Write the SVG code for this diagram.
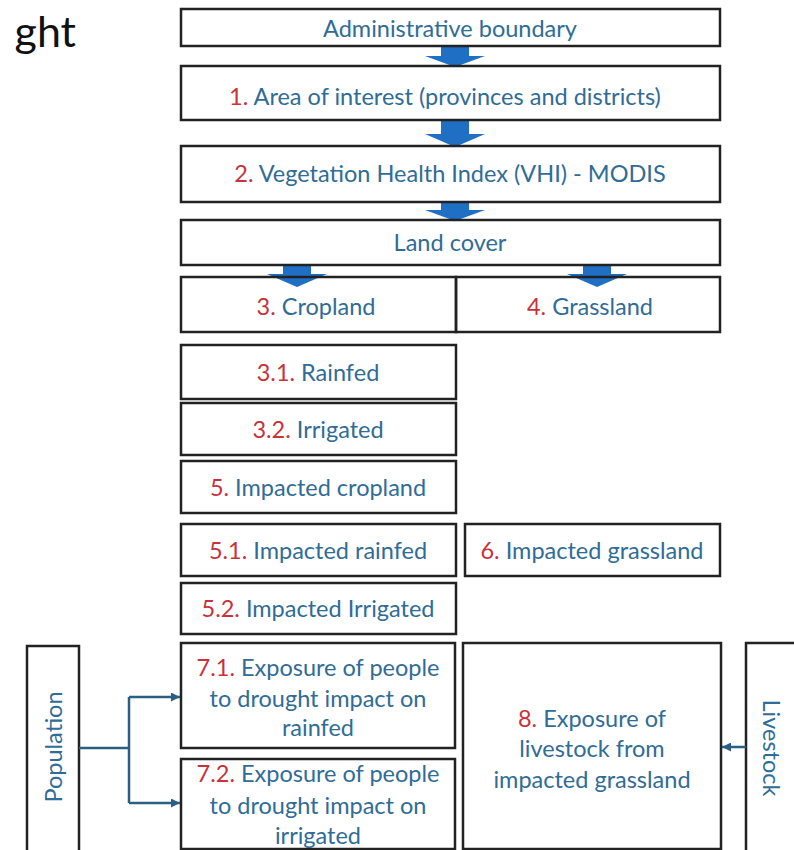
<svg xmlns="http://www.w3.org/2000/svg" width="794" height="850" viewBox="0 0 794 850">
<defs>
<style>
.box{fill:#fff;stroke:#222;stroke-width:2.5}
.t{font-family:Lato,"Open Sans","Liberation Sans",sans-serif;font-size:23.5px;fill:#2f6c97;text-anchor:middle;dominant-baseline:central}
.n{fill:#c8323a}
.blk{fill:#1f6fc5}
.con{fill:none;stroke:#2b5f82;stroke-width:2.5}
</style>
<marker id="ah" viewBox="0 0 10 10" refX="10" refY="5" markerWidth="9" markerHeight="9" markerUnits="userSpaceOnUse" orient="auto">
<path d="M0,0 L10,5 L0,10 z" fill="#2b5f82"/>
</marker>
</defs>
<rect width="794" height="850" fill="#fff"/>
<text x="76" y="47" font-family="Lato,'Open Sans','Liberation Sans',sans-serif" font-size="43" fill="#111" text-anchor="end">ght</text>

<g id="block-arrows">
<polygon class="blk" points="441,45 469,45 469,56 485,56 455,67 425,56 441,56"/>
<polygon class="blk" points="441,119 469,119 469,134 485,134 455,147 425,134 441,134"/>
<polygon class="blk" points="441,201 469,201 469,210 485,210 455,221 425,210 441,210"/>
<polygon class="blk" points="283,264 311,264 311,274 327,274 297,287 267,274 283,274"/>
<polygon class="blk" points="583,264 611,264 611,274 627,274 597,287 567,274 583,274"/>
</g>

<g id="admin"><rect class="box" x="181" y="9" width="539" height="37"/><text class="t" x="450" y="28">Administrative boundary</text></g>
<g id="n1"><rect class="box" x="181" y="66" width="539" height="54" fill-opacity="0"/><text class="t" x="445" y="96"><tspan class="n">1.</tspan> Area of interest (provinces and districts)</text></g>
<g id="n2"><rect class="box" x="181" y="146" width="539" height="56" fill-opacity="0"/><text class="t" x="450" y="173"><tspan class="n">2.</tspan> Vegetation Health Index (VHI) - MODIS</text></g>
<g id="landcover"><rect class="box" x="181" y="220" width="539" height="45" fill-opacity="0"/><text class="t" x="450" y="242">Land cover</text></g>
<g id="n3"><rect class="box" x="181" y="277" width="275" height="55" style="fill:none"/><text class="t" x="316" y="306"><tspan class="n">3.</tspan> Cropland</text></g>
<g id="n4"><rect class="box" x="456" y="277" width="264" height="55" style="fill:none"/><text class="t" x="590" y="306"><tspan class="n">4.</tspan> Grassland</text></g>
<g id="n31"><rect class="box" x="181" y="345" width="275" height="54"/><text class="t" x="318" y="372"><tspan class="n">3.1.</tspan> Rainfed</text></g>
<g id="n32"><rect class="box" x="181" y="403" width="275" height="52"/><text class="t" x="318" y="429"><tspan class="n">3.2.</tspan> Irrigated</text></g>
<g id="n5"><rect class="box" x="181" y="461" width="275" height="52"/><text class="t" x="318" y="487"><tspan class="n">5.</tspan> Impacted cropland</text></g>
<g id="n51"><rect class="box" x="181" y="524" width="275" height="52"/><text class="t" x="318" y="550"><tspan class="n">5.1.</tspan> Impacted rainfed</text></g>
<g id="n6"><rect class="box" x="465" y="524" width="255" height="52"/><text class="t" x="592" y="550"><tspan class="n">6.</tspan> Impacted grassland</text></g>
<g id="n52"><rect class="box" x="181" y="583" width="275" height="51"/><text class="t" x="318" y="608"><tspan class="n">5.2.</tspan> Impacted Irrigated</text></g>
<g id="n71"><rect class="box" x="181" y="643" width="274" height="105"/><text class="t" x="318" y="667"><tspan class="n">7.1.</tspan> Exposure of people</text><text class="t" x="318" y="698">to drought impact on</text><text class="t" x="318" y="727">rainfed</text></g>
<g id="n72"><rect class="box" x="181" y="759" width="274" height="90"/><text class="t" x="318" y="773"><tspan class="n">7.2.</tspan> Exposure of people</text><text class="t" x="318" y="805">to drought impact on</text><text class="t" x="318" y="835">irrigated</text></g>
<g id="n8"><rect class="box" x="463" y="643" width="258" height="206"/><text class="t" x="592" y="718"><tspan class="n">8.</tspan> Exposure of</text><text class="t" x="592" y="748">livestock from</text><text class="t" x="592" y="779">impacted grassland</text></g>
<g id="population"><rect class="box" x="27" y="646" width="52" height="210"/><text class="t" transform="translate(53,747) rotate(-90)">Population</text></g>
<g id="livestock"><rect class="box" x="746" y="643" width="60" height="215"/><text class="t" transform="translate(772,748) rotate(90)">Livestock</text></g>

<g id="connectors">
<path class="con" d="M79,748 H129"/>
<path class="con" d="M129,697 V803"/>
<path class="con" d="M129,697 H180" marker-end="url(#ah)"/>
<path class="con" d="M129,803 H180" marker-end="url(#ah)"/>
<path class="con" d="M746,747 H722" marker-end="url(#ah)"/>
</g>
</svg>
